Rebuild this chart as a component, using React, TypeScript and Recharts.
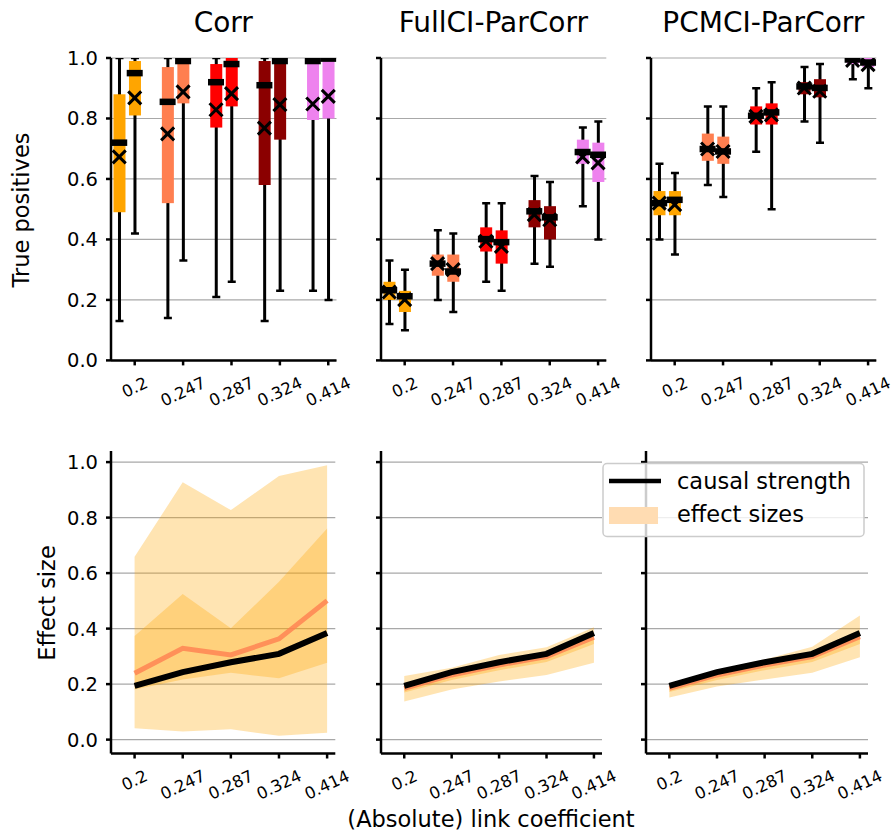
import React from "react";
import {
  ComposedChart,
  Bar,
  Scatter,
  Area,
  Line,
  XAxis,
  YAxis,
  CartesianGrid,
} from "recharts";

const coefLabels = ["0.2", "0.247", "0.287", "0.324", "0.414"];
const coefIndex = [0, 1, 2, 3, 4];
const boxColors = ["orange", "coral", "red", "darkred", "violet"];
const pairOffset = [-0.32, 0];
const methods = ["Corr", "FullCI-ParCorr", "PCMCI-ParCorr"];

// true positives, two boxes per coefficient (left, right)
const corrWhiskerLow = [0.13, 0.42, 0.14, 0.33, 0.21, 0.26, 0.13, 0.23, 0.23, 0.2];
const corrWhiskerHigh = [1, 1, 1, 1, 1, 1, 1, 1, 1, 1];
const corrBoxLow = [0.49, 0.81, 0.52, 0.85, 0.77, 0.84, 0.58, 0.73, 0.795, 0.8];
const corrBoxHigh = [0.88, 0.99, 0.97, 1.0, 0.98, 1.0, 0.99, 1.0, 1.0, 1.0];
const corrMedian = [0.72, 0.95, 0.855, 0.99, 0.92, 0.98, 0.91, 0.99, 0.99, 0.998];
const corrMean = [0.673, 0.868, 0.749, 0.888, 0.829, 0.882, 0.768, 0.846, 0.848, 0.873];

const fullWhiskerLow = [0.12, 0.1, 0.2, 0.16, 0.26, 0.23, 0.32, 0.31, 0.51, 0.4];
const fullWhiskerHigh = [0.33, 0.3, 0.43, 0.42, 0.52, 0.52, 0.61, 0.59, 0.77, 0.79];
const fullBoxLow = [0.2, 0.16, 0.28, 0.26, 0.36, 0.32, 0.44, 0.4, 0.65, 0.59];
const fullBoxHigh = [0.26, 0.23, 0.35, 0.35, 0.44, 0.43, 0.53, 0.51, 0.73, 0.72];
const fullMedian = [0.232, 0.212, 0.32, 0.294, 0.401, 0.391, 0.493, 0.473, 0.689, 0.68];
const fullMean = [0.226, 0.201, 0.32, 0.3, 0.394, 0.377, 0.482, 0.465, 0.673, 0.653];

const pcmciWhiskerLow = [0.4, 0.35, 0.58, 0.54, 0.69, 0.5, 0.79, 0.72, 0.93, 0.9];
const pcmciWhiskerHigh = [0.65, 0.62, 0.84, 0.84, 0.9, 0.92, 0.97, 0.98, 1.0, 1.0];
const pcmciBoxLow = [0.48, 0.48, 0.66, 0.65, 0.78, 0.78, 0.88, 0.87, 0.98, 0.97];
const pcmciBoxHigh = [0.56, 0.56, 0.75, 0.74, 0.84, 0.85, 0.92, 0.93, 1.0, 1.0];
const pcmciMedian = [0.52, 0.531, 0.699, 0.691, 0.809, 0.82, 0.906, 0.901, 0.995, 0.985];
const pcmciMean = [0.52, 0.515, 0.699, 0.691, 0.807, 0.812, 0.901, 0.89, 0.992, 0.978];

// effect sizes
const causalStrength = [0.194, 0.243, 0.279, 0.309, 0.384];

const corrOuterLow = [0.041, 0.029, 0.037, 0.014, 0.025];
const corrOuterHigh = [0.659, 0.927, 0.827, 0.95, 0.989];
const corrInnerLow = [0.181, 0.217, 0.241, 0.221, 0.277];
const corrInnerHigh = [0.373, 0.525, 0.401, 0.569, 0.761];
const corrEffect = [0.239, 0.329, 0.305, 0.363, 0.501];

const fullOuterLow = [0.137, 0.181, 0.209, 0.233, 0.277];
const fullOuterHigh = [0.229, 0.259, 0.305, 0.333, 0.405];
const fullInnerLow = [0.17, 0.215, 0.25, 0.28, 0.345];
const fullInnerHigh = [0.195, 0.245, 0.28, 0.31, 0.38];
const fullEffect = [0.185, 0.233, 0.269, 0.299, 0.369];

const pcmciOuterLow = [0.152, 0.191, 0.217, 0.241, 0.297];
const pcmciOuterHigh = [0.197, 0.251, 0.289, 0.335, 0.447];
const pcmciInnerLow = [0.172, 0.215, 0.25, 0.28, 0.345];
const pcmciInnerHigh = [0.19, 0.24, 0.275, 0.31, 0.39];
const pcmciEffect = [0.185, 0.233, 0.269, 0.299, 0.371];

const yTicksTop = [0, 0.2, 0.4, 0.6, 0.8, 1.0];
const yTicksBottom = [0, 0.2, 0.4, 0.6, 0.8, 1.0];

const FONT = "'DejaVu Sans', sans-serif";
const X_DOMAIN = [-0.49, 4.17];

function boxRows(wlo, whi, blo, bhi, med, mean) {
  return wlo.map((_, k) => {
    const c = Math.floor(k / 2);
    return {
      x: coefIndex[c] + pairOffset[k % 2],
      color: boxColors[c],
      wlo: wlo[k],
      whi: whi[k],
      blo: blo[k],
      bhi: bhi[k],
      med: med[k],
      mean: mean[k],
    };
  });
}

function effectRows(olo, ohi, ilo, ihi, eff) {
  return coefIndex.map((x, i) => ({
    x,
    olo: olo[i],
    ohi: ohi[i],
    ilo: ilo[i],
    ihi: ihi[i],
    eff: eff[i],
    cs: causalStrength[i],
  }));
}

const topData = [
  boxRows(corrWhiskerLow, corrWhiskerHigh, corrBoxLow, corrBoxHigh, corrMedian, corrMean),
  boxRows(fullWhiskerLow, fullWhiskerHigh, fullBoxLow, fullBoxHigh, fullMedian, fullMean),
  boxRows(pcmciWhiskerLow, pcmciWhiskerHigh, pcmciBoxLow, pcmciBoxHigh, pcmciMedian, pcmciMean),
];

const bottomData = [
  effectRows(corrOuterLow, corrOuterHigh, corrInnerLow, corrInnerHigh, corrEffect),
  effectRows(fullOuterLow, fullOuterHigh, fullInnerLow, fullInnerHigh, fullEffect),
  effectRows(pcmciOuterLow, pcmciOuterHigh, pcmciInnerLow, pcmciInnerHigh, pcmciEffect),
];

const topFrames = [
  { left: 110.5, right: 336, top: 58.3, bottom: 360.7 },
  { left: 380.7, right: 606, top: 58.3, bottom: 360.7 },
  { left: 650.7, right: 876, top: 58.3, bottom: 360.7 },
];
const bottomFrames = [
  { left: 110.7, right: 335, top: 451, bottom: 753.5 },
  { left: 380.7, right: 601.7, top: 451, bottom: 753.5 },
  { left: 645.7, right: 867.7, top: 451, bottom: 753.5 },
];

const ML = 70;
const MT = 12;
const MR = 26;
const MB = 70;

const WhiskerShape = (p: any) => {
  const cx = p.x + p.width / 2;
  const y1 = p.y;
  const y2 = p.y + p.height;
  return (
    <g>
      <line x1={cx} x2={cx} y1={y1} y2={y2} stroke="#000" strokeWidth={3} />
      <line x1={cx - 4} x2={cx + 4} y1={y1} y2={y1} stroke="#000" strokeWidth={2.5} />
      <line x1={cx - 4} x2={cx + 4} y1={y2} y2={y2} stroke="#000" strokeWidth={2.5} />
    </g>
  );
};

const BoxShape = (p: any) => {
  const cx = p.x + p.width / 2;
  return <rect x={cx - 6} y={p.y} width={12} height={Math.max(p.height, 0)} fill={p.payload.color} />;
};

const MedianShape = (p: any) => (
  <rect x={p.cx - 8} y={p.cy - 3.25} width={16} height={6.5} fill="#000" />
);

const MeanShape = (p: any) => {
  const s = 6.5;
  return (
    <path
      d={`M${p.cx - s},${p.cy - s}L${p.cx + s},${p.cy + s}M${p.cx - s},${p.cy + s}L${p.cx + s},${p.cy - s}`}
      stroke="#000"
      strokeWidth={3}
      fill="none"
    />
  );
};

const XTick = (p: any) => {
  const label = coefLabels[Math.round(p.payload.value)];
  const fs = 16.5;
  const w = fs * (0.318 + 0.636 * (label.length - 1));
  const h = fs * 0.73;
  const a = (25 * Math.PI) / 180;
  const cy = p.y + 11 + (w * Math.sin(a) + h * Math.cos(a)) / 2;
  return (
    <text
      x={p.x}
      y={cy}
      textAnchor="middle"
      dominantBaseline="central"
      transform={`rotate(-25 ${p.x} ${cy})`}
      fontSize={fs}
      fill="#000"
    >
      {label}
    </text>
  );
};

const axisStyle = { stroke: "#000", strokeWidth: 2.5 };
const yTickStyle = { fill: "#000", fontSize: 19.5 };

function frameStyle(f) {
  return {
    position: "absolute" as const,
    left: f.left - ML,
    top: f.top - MT,
  };
}

function TopPanel({ data, frame, showLabels }) {
  const width = frame.right - frame.left + ML + MR;
  const height = frame.bottom - frame.top + MT + MB;
  return (
    <div style={frameStyle(frame)}>
      <ComposedChart
        width={width}
        height={height}
        data={data}
        margin={{ top: MT, right: MR, bottom: 0, left: 0 }}
      >
        <CartesianGrid vertical={false} stroke="#a8a8a8" strokeWidth={1.2} syncWithTicks />
        <XAxis
          dataKey="x"
          type="number"
          domain={X_DOMAIN}
          allowDataOverflow
          ticks={coefIndex}
          tick={<XTick />}
          tickSize={5}
          tickMargin={0}
          height={MB}
          axisLine={axisStyle}
          tickLine={axisStyle}
        />
        <XAxis xAxisId="box" dataKey="x" type="number" domain={X_DOMAIN} allowDataOverflow hide />
        <YAxis
          type="number"
          domain={[0, 1]}
          allowDataOverflow
          ticks={yTicksTop}
          tickFormatter={(v) => (showLabels ? v.toFixed(1) : "")}
          tick={yTickStyle}
          tickSize={5}
          tickMargin={8}
          width={ML}
          axisLine={axisStyle}
          tickLine={axisStyle}
        />
        <Bar
          dataKey={(r) => [r.wlo, r.whi]}
          barSize={8}
          shape={<WhiskerShape />}
          isAnimationActive={false}
        />
        <Bar
          xAxisId="box"
          dataKey={(r) => [r.blo, r.bhi]}
          barSize={12}
          shape={<BoxShape />}
          isAnimationActive={false}
        />
        <Scatter dataKey="med" shape={<MedianShape />} isAnimationActive={false} />
        <Scatter dataKey="mean" shape={<MeanShape />} isAnimationActive={false} />
      </ComposedChart>
    </div>
  );
}

function BottomPanel({ data, frame, showLabels }) {
  const width = frame.right - frame.left + ML + MR;
  const height = frame.bottom - frame.top + MT + MB;
  return (
    <div style={frameStyle(frame)}>
      <ComposedChart
        width={width}
        height={height}
        data={data}
        margin={{ top: MT, right: MR, bottom: 0, left: 0 }}
      >
        <CartesianGrid vertical={false} stroke="#a8a8a8" strokeWidth={1.2} syncWithTicks />
        <XAxis
          dataKey="x"
          type="number"
          domain={X_DOMAIN}
          allowDataOverflow
          ticks={coefIndex}
          tick={<XTick />}
          tickSize={5}
          tickMargin={0}
          height={MB}
          axisLine={axisStyle}
          tickLine={axisStyle}
        />
        <YAxis
          type="number"
          domain={[-0.05, 1.04]}
          allowDataOverflow
          ticks={yTicksBottom}
          tickFormatter={(v) => (showLabels ? v.toFixed(1) : "")}
          tick={yTickStyle}
          tickSize={5}
          tickMargin={8}
          width={ML}
          axisLine={axisStyle}
          tickLine={axisStyle}
        />
        <Area
          type="linear"
          dataKey={(r) => [r.olo, r.ohi]}
          fill="orange"
          fillOpacity={0.3}
          stroke="none"
          isAnimationActive={false}
        />
        <Area
          type="linear"
          dataKey={(r) => [r.ilo, r.ihi]}
          fill="orange"
          fillOpacity={0.3}
          stroke="none"
          isAnimationActive={false}
        />
        <Line
          type="linear"
          dataKey="eff"
          stroke="coral"
          strokeOpacity={0.8}
          strokeWidth={5}
          dot={false}
          isAnimationActive={false}
        />
        <Line
          type="linear"
          dataKey="cs"
          stroke="#000"
          strokeWidth={6}
          dot={false}
          isAnimationActive={false}
        />
      </ComposedChart>
    </div>
  );
}

export default function App() {
  return (
    <div
      style={{
        position: "absolute",
        left: 0,
        top: 0,
        width: 891,
        height: 838,
        background: "#fff",
        fontFamily: FONT,
      }}
    >
      {topData.map((d, i) => (
        <TopPanel key={"t" + i} data={d} frame={topFrames[i]} showLabels={i === 0} />
      ))}
      {bottomData.map((d, i) => (
        <BottomPanel key={"b" + i} data={d} frame={bottomFrames[i]} showLabels={i === 0} />
      ))}
      <svg
        width={891}
        height={838}
        style={{ position: "absolute", left: 0, top: 0, pointerEvents: "none" }}
        fontFamily={FONT}
      >
        {methods.map((m, i) => (
          <text
            key={m}
            x={(topFrames[i].left + topFrames[i].right) / 2}
            y={32}
            textAnchor="middle"
            fontSize={28}
            fill="#000"
          >
            {m}
          </text>
        ))}
        <text x={29} y={210} textAnchor="middle" fontSize={22.5} transform="rotate(-90 29 210)">
          True positives
        </text>
        <text x={54.5} y={603} textAnchor="middle" fontSize={22.5} transform="rotate(-90 54.5 603)">
          Effect size
        </text>
        <text x={491} y={827} textAnchor="middle" fontSize={22.5}>
          (Absolute) link coefficient
        </text>
        <rect x={603} y={463.5} width={261} height={73} rx={4} fill="rgba(255,255,255,0.8)" stroke="#cccccc" strokeWidth={1.5} />
        <line x1={609} x2={661} y1={481} y2={481} stroke="#000" strokeWidth={4.5} />
        <text x={677} y={489} fontSize={22.5}>causal strength</text>
        <rect x={609} y={507} width={49} height={17} fill="#ffdcb2" />
        <text x={677} y={522} fontSize={22.5}>effect sizes</text>
      </svg>
    </div>
  );
}
